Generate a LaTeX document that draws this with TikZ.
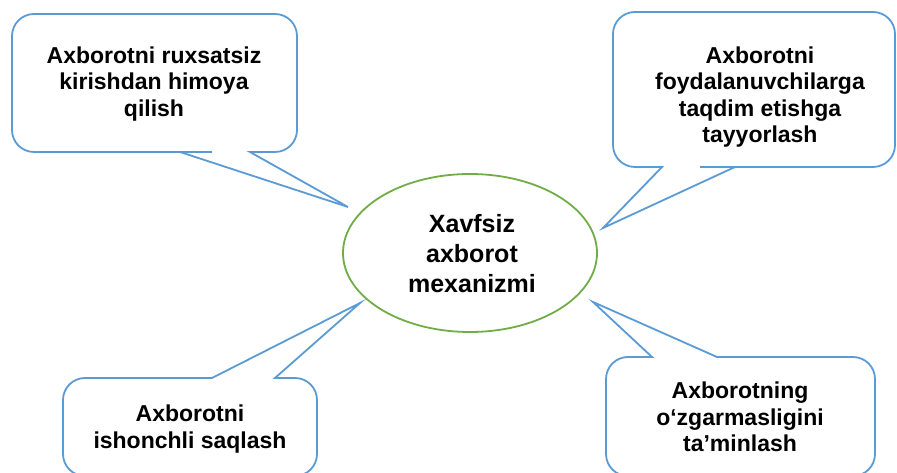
\documentclass[tikz,border=0pt]{standalone}
\usepackage{fontspec}
\setmainfont{Liberation Sans}
\definecolor{cblue}{HTML}{5B9BD5}
\definecolor{cgreen}{HTML}{70AD47}
\begin{document}
\begin{tikzpicture}[x=1pt,y=1pt,
  bubble/.style={draw=cblue, line width=1.8pt, fill=white},
  btext/.style={align=center, font=\bfseries\fontsize{23}{26.5}\selectfont, inner sep=0pt},
  ctext/.style={align=center, font=\bfseries\fontsize{25}{30}\selectfont, inner sep=0pt},
  ]
\useasboundingbox (0,0) rectangle (897,473);
\clip (0,0) rectangle (897,473);

% top-left callout
\draw[bubble] (212,321) -- (180,321) -- (348,266) -- (250,321) -- (275,321)
  arc[start angle=270,end angle=360,radius=22] -- (297,437)
  arc[start angle=0,end angle=90,radius=22] -- (34,459)
  arc[start angle=90,end angle=180,radius=22] -- (12,343)
  arc[start angle=180,end angle=270,radius=22] -- cycle;
% top-right callout
\draw[bubble] (700,306) -- (735,306) -- (873,306)
  arc[start angle=270,end angle=360,radius=22] -- (895,439)
  arc[start angle=0,end angle=90,radius=22] -- (635,461)
  arc[start angle=90,end angle=180,radius=22] -- (613,328)
  arc[start angle=180,end angle=270,radius=22] -- (662,306) -- (603,245) -- (735,306);
% bottom-left callout
\draw[bubble] (150,95) -- (85,95)
  arc[start angle=90,end angle=180,radius=22] -- (63,19)
  arc[start angle=180,end angle=270,radius=22] -- (295,-3)
  arc[start angle=270,end angle=360,radius=22] -- (317,73)
  arc[start angle=0,end angle=90,radius=22] -- (275,95) -- (360,170) -- (212,95) -- cycle;
% bottom-right callout
\draw[bubble] (640,116) -- (628,116)
  arc[start angle=90,end angle=180,radius=22] -- (606,19)
  arc[start angle=180,end angle=270,radius=22] -- (853,-3)
  arc[start angle=270,end angle=360,radius=22] -- (875,94)
  arc[start angle=0,end angle=90,radius=22] -- (717,116) -- (593,171) -- (652,116) -- cycle;

% centre ellipse
\draw[cgreen, line width=1.8pt] (470,220) ellipse[x radius=127, y radius=79];
\node[ctext] (centre) at (472,219) {Xavfsiz\\axborot\\mexanizmi};

\node[btext] (tl) at (154,389) {Axborotni ruxsatsiz\\kirishdan himoya\\qilish};
\node[btext] (tr) at (760,376) {Axborotni\\foydalanuvchilarga\\taqdim etishga\\tayyorlash};
\node[btext] (bl) at (190,44) {Axborotni\\ishonchli saqlash};
\node[btext] (br) at (740,56) {Axborotning\\o‘zgarmasligini\\ta’minlash};
\end{tikzpicture}
\end{document}
